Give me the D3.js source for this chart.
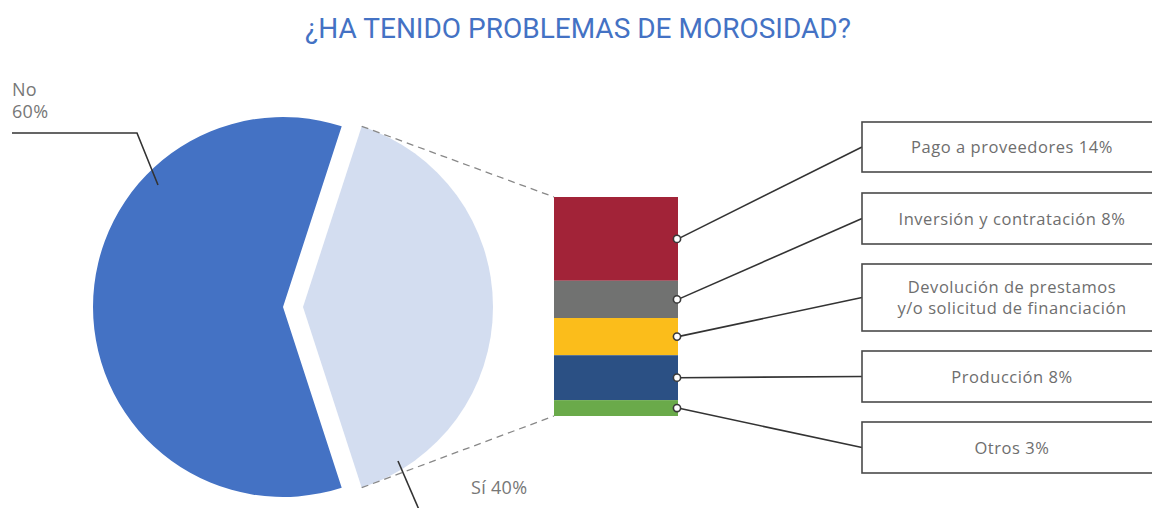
<!DOCTYPE html>
<html lang="es">
<head>
<meta charset="UTF-8">
<title>Morosidad</title>
<script src="https://d3js.org/d3.v7.min.js"></script>
<style>
body{margin:0;background:#fff;}
svg{display:block;}
.title{font-family:Roboto,sans-serif;font-size:28px;font-weight:400;fill:#4472C4;text-anchor:middle;}
.lbl{font-family:"Open Sans",sans-serif;font-size:18px;fill:#777;letter-spacing:0.3px;}
.box rect{fill:#fff;stroke:#4a4a4a;stroke-width:1.6;}
.box text{font-family:"Open Sans",sans-serif;font-size:16.5px;fill:#6e6e6e;text-anchor:middle;letter-spacing:0.55px;}
.leader{fill:none;stroke:#333;stroke-width:1.6;}
</style>
</head>
<body>
<script>
// datos
var pieCats = ['Sí', 'No'];
var pieValues = [40, 60];
var pieColors = ['#D3DDF0', '#4472C4'];

var barCats = ['Pago a proveedores 14%', 'Inversión y contratación 8%',
  'Devolución de prestamos|y/o solicitud de financiación', 'Producción 8%', 'Otros 3%'];
var barValues = [15.3, 6.8, 6.8, 8.2, 2.9];
var barColors = ['#A22338', '#717271', '#FBBD1B', '#2B5084', '#6AAA4A'];

var width = 1152, height = 508;

var svg = d3.select('body').append('svg')
  .attr('width', width)
  .attr('height', height);

svg.append('text')
  .attr('class', 'title')
  .attr('x', 578)
  .attr('y', 38)
  .text('¿HA TENIDO PROBLEMAS DE MOROSIDAD?');

// tarta
var cx = 283, cy = 307, r = 190, explode = 20;
var toRad = Math.PI / 180;

var pie = d3.pie().sort(null).startAngle(18 * toRad).endAngle(378 * toRad);
var arcs = pie(pieValues);
var arc = d3.arc().innerRadius(0).outerRadius(r);

svg.selectAll('.slice')
  .data(arcs)
  .enter()
  .append('path')
  .attr('class', 'slice')
  .attr('transform', function(d, i){
    return 'translate(' + (cx + (i === 0 ? explode : 0)) + ',' + cy + ')';
  })
  .attr('d', arc)
  .attr('fill', function(d, i){return pieColors[i]});

// barra apilada
var bar = {x: 554, y: 197, w: 124, h: 219};
var yScale = d3.scaleLinear()
  .domain([0, d3.sum(barValues)])
  .range([0, bar.h]);

var stack = [];
var acc = 0;
barValues.forEach(function(v, i){
  stack.push({i: i, y0: acc, y1: acc + v});
  acc += v;
});

// lineas discontinuas entre la porcion y la barra
var si = arcs[0];
function polar(a, rad, ox){
  return [ox + rad * Math.sin(a), cy - rad * Math.cos(a)];
}
var pTop = polar(si.startAngle, r, cx + explode);
var pBot = polar(si.endAngle, r, cx + explode);
svg.append('line')
  .attr('x1', pTop[0]).attr('y1', pTop[1])
  .attr('x2', bar.x).attr('y2', bar.y + yScale(0))
  .attr('stroke', '#888').attr('stroke-width', 1.3).attr('stroke-dasharray', '7,5');
svg.append('line')
  .attr('x1', pBot[0]).attr('y1', pBot[1])
  .attr('x2', bar.x).attr('y2', bar.y + yScale(acc))
  .attr('stroke', '#888').attr('stroke-width', 1.3).attr('stroke-dasharray', '7,5');

svg.selectAll('.seg')
  .data(stack)
  .enter()
  .append('rect')
  .attr('class', 'seg')
  .attr('x', bar.x)
  .attr('y', function(d){return bar.y + yScale(d.y0)})
  .attr('width', bar.w)
  .attr('height', function(d){return yScale(d.y1) - yScale(d.y0)})
  .attr('fill', function(d){return barColors[d.i]});

// cajas de etiquetas
var boxes = [[122, 172], [193, 244], [264, 331], [351, 402], [422, 473]];
var boxX = 862, boxW = 300;

var g = svg.selectAll('.box')
  .data(stack)
  .enter()
  .append('g')
  .attr('class', 'box');

g.append('line')
  .attr('class', 'leader')
  .attr('x1', bar.x + bar.w)
  .attr('y1', function(d){return bar.y + yScale((d.y0 + d.y1) / 2)})
  .attr('x2', boxX)
  .attr('y2', function(d){return (boxes[d.i][0] + boxes[d.i][1]) / 2});

g.append('rect')
  .attr('x', boxX)
  .attr('y', function(d){return boxes[d.i][0]})
  .attr('width', boxW)
  .attr('height', function(d){return boxes[d.i][1] - boxes[d.i][0]});

g.append('circle')
  .attr('cx', bar.x + bar.w - 1)
  .attr('cy', function(d){return bar.y + yScale((d.y0 + d.y1) / 2)})
  .attr('r', 3.6)
  .attr('fill', '#fff')
  .attr('stroke', '#3a3a3a')
  .attr('stroke-width', 1.6);

g.each(function(d){
  var lines = barCats[d.i].split('|');
  var mid = (boxes[d.i][0] + boxes[d.i][1]) / 2;
  var t = d3.select(this).append('text')
    .attr('x', boxX + 150)
    .attr('y', mid - (lines.length - 1) * 10.5 + 6);
  lines.forEach(function(s, k){
    t.append('tspan').attr('x', boxX + 150).attr('dy', k ? 21 : 0).text(s);
  });
});

// etiquetas de la tarta
svg.append('text').attr('class', 'lbl').attr('x', 12).attr('y', 96).text(pieCats[1]);
svg.append('text').attr('class', 'lbl').attr('x', 12).attr('y', 118).text(pieValues[1] + '%');
svg.append('polyline').attr('class', 'leader')
  .attr('points', '12,133 137,133 158,185');

svg.append('text').attr('class', 'lbl').attr('x', 471).attr('y', 494)
  .text(pieCats[0] + ' ' + pieValues[0] + '%');
svg.append('line').attr('class', 'leader')
  .attr('x1', 398).attr('y1', 461).attr('x2', 420).attr('y2', 512);
</script>
</body>
</html>
